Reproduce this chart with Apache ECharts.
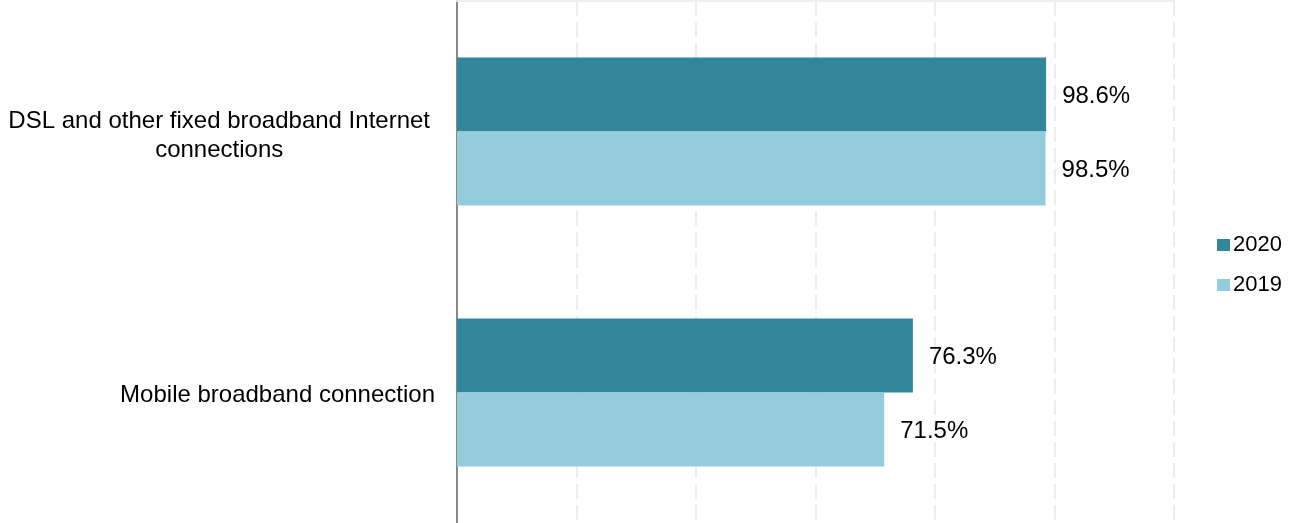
<!DOCTYPE html>
<html>
<head>
<meta charset="utf-8">
<script src="https://cdn.jsdelivr.net/npm/echarts@6/dist/echarts.min.js"></script>
<style>
  html, body { margin: 0; padding: 0; background: #fff; }
  #chart { width: 1291px; height: 523px; }
</style>
</head>
<body>
<div id="chart"></div>
<script>
// categories, top to bottom
var categories = ['DSL and other fixed broadband Internet\nconnections', 'Mobile broadband connection'];
var seriesNames = ['2020', '2019'];
var values2020 = [98.6, 76.3];
var values2019 = [98.5, 71.5];
var xTicks = [0, 20, 40, 60, 80, 100, 120];

var colors = ['#31869b', '#93cddd'];
var font = 'Arial, "Liberation Sans", sans-serif';

var chart = echarts.init(document.getElementById('chart'));

function makeSeries(name, data, color) {
    return {
        name: name,
        type: 'bar',
        data: data,
        color: color,
        barWidth: 74,
        barGap: '0%',
        label: {
            show: true,
            position: 'right',
            distance: 16,
            offset: [0, 2],
            color: '#000',
            fontFamily: font,
            fontSize: 24,
            formatter: function(p) {
                return p.value.toFixed(1) + '%';
            }
        }
    };
}

// two-line label sits a bit lower and further left in the original
var catData = categories.map(function(c) {
    var multi = c.indexOf('\n') >= 0;
    return {
        value: c,
        textStyle: { padding: multi ? [9, 5, 0, 0] : [5, 0, 0, 0] }
    };
});

var option = {
    animation: false,
    backgroundColor: '#fff',
    grid: {
        left: 457,
        right: 117,
        top: 1,
        bottom: -1
    },
    legend: {
        orient: 'vertical',
        left: 1212,
        top: 229,
        itemWidth: 13,
        itemHeight: 12,
        itemGap: 18,
        icon: 'rect',
        data: seriesNames,
        textStyle: {
            color: '#000',
            fontFamily: font,
            fontSize: 22,
            padding: [0, 0, 0, -2]
        }
    },
    xAxis: {
        type: 'value',
        position: 'top',
        min: xTicks[0],
        max: xTicks[xTicks.length - 1],
        interval: xTicks[1] - xTicks[0],
        axisLabel: { show: false },
        axisTick: { show: false },
        axisLine: { show: true, lineStyle: { color: '#eeeeee', width: 2 } },
        splitLine: {
            show: true,
            lineStyle: { color: '#e8e8e8', type: [15, 6], width: 1.5 }
        }
    },
    yAxis: {
        type: 'category',
        inverse: true,
        data: catData,
        axisTick: { show: false },
        axisLine: { show: true, lineStyle: { color: '#888888', width: 2 } },
        axisLabel: {
            margin: 22,
            color: '#000',
            fontFamily: font,
            fontSize: 24,
            lineHeight: 29,
            formatter: function(value) {
                return value.split('\n').map(function(l) {
                    return '{c|' + l + '}';
                }).join('\n');
            },
            rich: {
                c: {
                    align: 'center',
                    color: '#000',
                    fontFamily: font,
                    fontSize: 24,
                    lineHeight: 29
                }
            }
        }
    },
    series: [
        makeSeries(seriesNames[0], values2020, colors[0]),
        makeSeries(seriesNames[1], values2019, colors[1])
    ]
};

chart.setOption(option);
</script>
</body>
</html>
